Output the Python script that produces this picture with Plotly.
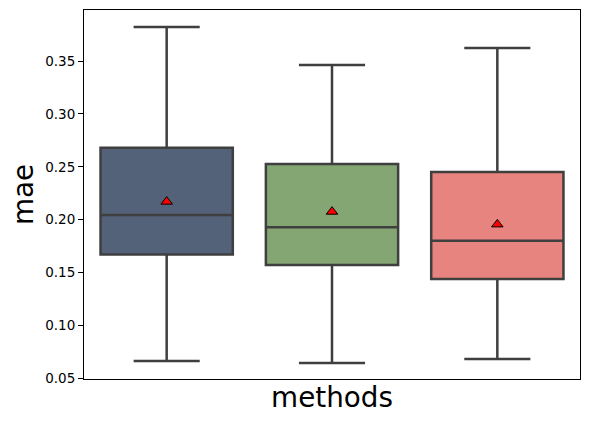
import plotly.graph_objects as go

methods = [0, 1, 2]
colors = ["#536179", "#84a673", "#e8847f"]
lower = [0.0664, 0.0646, 0.0683]
q1 = [0.1672, 0.1572, 0.1440]
median = [0.2045, 0.1928, 0.1802]
q3 = [0.2681, 0.2527, 0.2451]
upper = [0.3822, 0.3463, 0.3624]
means = [0.2171, 0.2076, 0.1956]
yticks = [0.05, 0.10, 0.15, 0.20, 0.25, 0.30, 0.35]

fig = go.Figure()
for i, m in enumerate(methods):
    fig.add_trace(go.Box(
        x=[m], q1=[q1[i]], median=[median[i]], q3=[q3[i]],
        lowerfence=[lower[i]], upperfence=[upper[i]],
        width=0.8, whiskerwidth=0.5, boxpoints=False,
        fillcolor=colors[i], line=dict(color="#3f3f3f", width=2.5),
        showlegend=False, hoverinfo="skip",
    ))
fig.add_trace(go.Scatter(
    x=methods, y=means, mode="markers",
    marker=dict(symbol="triangle-up", size=10, color="red",
                line=dict(color="black", width=1)),
    showlegend=False, hoverinfo="skip",
))

fig.update_layout(
    width=590, height=423,
    margin=dict(l=84, r=10, t=10, b=44),
    plot_bgcolor="white", paper_bgcolor="white",
    font=dict(family="DejaVu Sans", color="black"),
)
fig.update_xaxes(
    range=[-0.5, 2.5], showticklabels=False, ticks="", showgrid=False,
    zeroline=False, showline=True, mirror=True, linecolor="black", linewidth=1,
    title=dict(text="methods", font=dict(size=27.8), standoff=8),
)
fig.update_yaxes(
    range=[0.0494, 0.3983], tickvals=yticks, ticktext=[f"{v:.2f}" for v in yticks],
    ticks="outside", ticklen=5, tickwidth=1, tickcolor="black",
    tickfont=dict(size=13.5), showgrid=False, zeroline=False,
    showline=True, mirror=True, linecolor="black", linewidth=1,
    title=dict(text="mae", font=dict(size=27.8), standoff=3),
)
fig.write_html("out.html", config={"displayModeBar": False},
               post_script="document.body.style.margin='0';")
